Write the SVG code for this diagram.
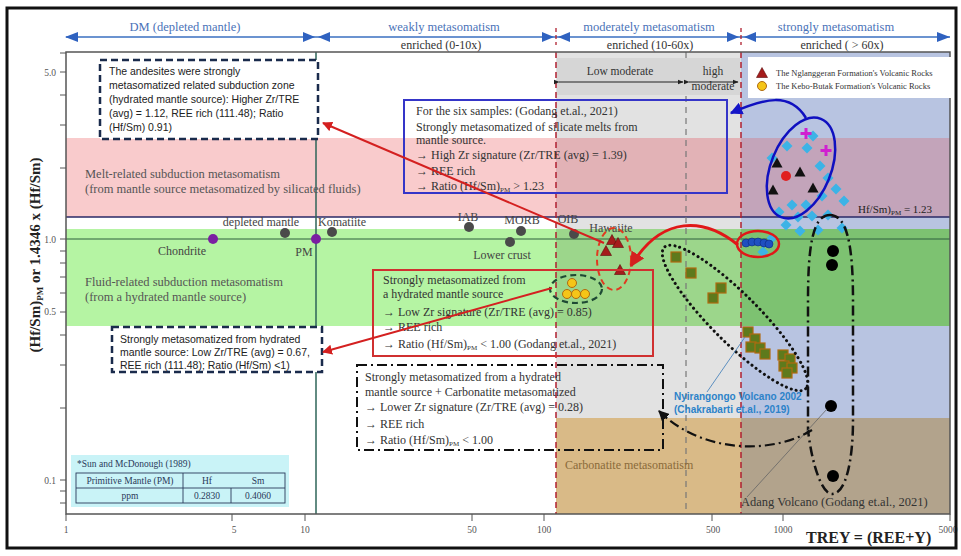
<svg xmlns="http://www.w3.org/2000/svg" width="961" height="556" viewBox="0 0 961 556">
<style>
.serif{font-family:"Liberation Serif","Times New Roman",serif;}
.sans{font-family:"Liberation Sans",Arial,sans-serif;}
.hdr{font-family:"Liberation Serif",serif;font-size:12.5px;fill:#4a72b8;text-anchor:middle;}
.enr{font-family:"Liberation Serif",serif;font-size:12px;fill:#333;text-anchor:middle;}
.tick{font-family:"Liberation Serif",serif;font-size:9.5px;fill:#555;}
.lbl{font-family:"Liberation Serif",serif;font-size:12px;fill:#444;}
.bx{font-family:"Liberation Serif",serif;font-size:12px;fill:#333;}
.bxs{font-family:"Liberation Sans",Arial,sans-serif;font-size:10.5px;fill:#222;}
.dia{fill:#3cb3e6;}
.sq{fill:#5e7a1c;stroke:#b06a10;stroke-width:1.2;}
.tri{fill:#a51c1c;stroke:#5a0a0a;stroke-width:0.6;}
.btri{fill:#111;}
.ycir{fill:#f5c518;stroke:#b06a10;stroke-width:1;}
.gdot{fill:#4a4a4a;}
.pdot{fill:#7b1fa2;}
</style>
<defs>
<marker id="arrR" viewBox="0 0 10 10" refX="9" refY="5" markerWidth="5" markerHeight="5" orient="auto"><path d="M0,0 L10,5 L0,10 Z" fill="#d42020"/></marker>
<marker id="arrB" viewBox="0 0 10 10" refX="9" refY="5" markerWidth="5" markerHeight="5" orient="auto"><path d="M0,0 L10,5 L0,10 Z" fill="#1515c8"/></marker>
<marker id="arrK" viewBox="0 0 10 10" refX="9" refY="5" markerWidth="5" markerHeight="5" orient="auto"><path d="M0,0 L10,5 L0,10 Z" fill="#111"/></marker>
<marker id="arrS" viewBox="0 0 10 10" refX="9" refY="5" markerWidth="6" markerHeight="6" orient="auto"><path d="M0,1 L10,5 L0,9 Z" fill="#222"/></marker>
<path id="dia" d="M0,-5.5 L5.5,0 L0,5.5 L-5.5,0 Z"/>
<path id="tri" d="M0,-5.5 L5.5,4.5 L-5.5,4.5 Z"/>
<rect id="sq" x="-5" y="-5" width="10" height="10"/>
</defs>

<rect x="0" y="0" width="961" height="556" fill="#fff"/>

<g id="bands">
<rect x="66" y="52" width="490" height="462" fill="#ffffff"/>
<rect x="66" y="138" width="490" height="79" fill="#f9cbcc"/>
<rect x="66" y="229" width="490" height="97" fill="#b5f4a3"/>
<rect x="556" y="52" width="185" height="462" fill="#e2e2e2"/>
<rect x="556" y="138" width="185" height="79" fill="#e2b2b6"/>
<rect x="556" y="229" width="185" height="97" fill="#9cd68b"/>
<rect x="556" y="418" width="185" height="96" fill="#d9ba87"/>
<rect x="741" y="52" width="209" height="462" fill="#b8c4e1"/>
<rect x="741" y="138" width="209" height="79" fill="#c3a4ba"/>
<rect x="741" y="229" width="209" height="97" fill="#7dc271"/>
<rect x="741" y="418" width="209" height="96" fill="#b2a38c"/>
</g>

<g id="gridlines">
<line x1="66" y1="217" x2="950" y2="217" stroke="#2a2a66" stroke-width="1.5"/>
<line x1="66" y1="239" x2="950" y2="239" stroke="#2e5e3e" stroke-width="1.2"/>
<line x1="316" y1="52" x2="316" y2="514" stroke="#2e6458" stroke-width="1.5"/>
<line x1="556" y1="52" x2="556" y2="514" stroke="#b02030" stroke-width="1.5" stroke-dasharray="6 4"/>
<line x1="741" y1="52" x2="741" y2="514" stroke="#b02030" stroke-width="1.5" stroke-dasharray="6 4"/>
<line x1="686" y1="52" x2="686" y2="514" stroke="#777" stroke-width="1.2" stroke-dasharray="6 5"/>
</g>

<g id="axes">
<rect x="66" y="52" width="884" height="462" fill="none" stroke="#555" stroke-width="1.5"/>
<g stroke="#555" stroke-width="1">
<line x1="60" y1="53" x2="66" y2="53"/><line x1="60" y1="72" x2="66" y2="72"/><line x1="60" y1="95" x2="66" y2="95"/><line x1="60" y1="125" x2="66" y2="125"/><line x1="60" y1="168" x2="66" y2="168"/><line x1="60" y1="239" x2="66" y2="239"/><line x1="60" y1="251" x2="66" y2="251"/><line x1="60" y1="263" x2="66" y2="263"/><line x1="60" y1="277" x2="66" y2="277"/><line x1="60" y1="293" x2="66" y2="293"/><line x1="60" y1="312" x2="66" y2="312"/><line x1="60" y1="335" x2="66" y2="335"/><line x1="60" y1="365" x2="66" y2="365"/><line x1="60" y1="408" x2="66" y2="408"/><line x1="60" y1="480" x2="66" y2="480"/><line x1="60" y1="491" x2="66" y2="491"/><line x1="60" y1="503" x2="66" y2="503"/>
<line x1="66" y1="514" x2="66" y2="521"/><line x1="232" y1="514" x2="232" y2="521"/><line x1="305" y1="514" x2="305" y2="521"/><line x1="472" y1="514" x2="472" y2="521"/><line x1="544" y1="514" x2="544" y2="521"/><line x1="712" y1="514" x2="712" y2="521"/><line x1="783" y1="514" x2="783" y2="521"/><line x1="950" y1="514" x2="950" y2="521"/>
</g>
<g class="tick" text-anchor="end">
<text x="56" y="76">5.0</text><text x="56" y="243">1.0</text><text x="56" y="315">0.5</text><text x="56" y="484">0.1</text>
</g>
<g class="tick" text-anchor="middle">
<text x="66" y="533">1</text><text x="234" y="533">5</text><text x="305" y="533">10</text><text x="472" y="533">50</text><text x="544" y="533">100</text><text x="713" y="533">500</text><text x="783" y="533">1000</text><text x="948" y="533">5000</text>
</g>
<text class="serif" x="806" y="543" font-size="16" font-weight="bold" fill="#222">TREY = (REE+Y)</text>
<text class="serif" transform="translate(40,255) rotate(-90)" text-anchor="middle" font-size="15" font-weight="bold" fill="#222">(Hf/Sm)<tspan font-size="9" dy="3">PM</tspan><tspan dy="-3"> or 1.4346 x (Hf/Sm)</tspan></text>
</g>

<g id="header">
<line x1="66" y1="37" x2="950" y2="37" stroke="#3a6fc0" stroke-width="1.3"/>
<g fill="#2f62c0">
<polygon points="65,37 78,32 78,42"/>
<polygon points="303,32 315,37 303,42"/><polygon points="330,32 318,37 330,42"/>
<polygon points="542,32 554,37 542,42"/><polygon points="570,32 558,37 570,42"/>
<polygon points="727,32 739,37 727,42"/><polygon points="756,32 744,37 756,42"/>
<polygon points="937,32 950,37 937,42"/>
</g>
<line x1="556" y1="28" x2="556" y2="45" stroke="#b02030" stroke-width="1.3" stroke-dasharray="4 3"/>
<line x1="741" y1="28" x2="741" y2="45" stroke="#b02030" stroke-width="1.3" stroke-dasharray="4 3"/>
<text class="hdr" x="185" y="31">DM (depleted mantle)</text>
<text class="hdr" x="444" y="31">weakly metasomatism</text>
<text class="enr" x="441" y="49">enriched (0-10x)</text>
<text class="hdr" x="649" y="31">moderately metasomatism</text>
<text class="enr" x="650" y="49">enriched (10-60x)</text>
<text class="hdr" x="836" y="31">strongly metasomatism</text>
<text class="enr" x="842" y="49">enriched ( &gt; 60x)</text>
</g>

<g id="moderate-sub">
<rect x="557" y="58" width="183" height="37" fill="#d6d6d6"/>
<text class="serif" x="620" y="75" font-size="11.5" fill="#333" text-anchor="middle">Low moderate</text>
<line x1="559" y1="82" x2="683" y2="82" stroke="#222" stroke-width="1" marker-start="url(#arrS)" marker-end="url(#arrS)"/>
<text class="serif" x="713" y="75" font-size="11.5" fill="#333" text-anchor="middle">high</text>
<text class="serif" x="713" y="90" font-size="11.5" fill="#333" text-anchor="middle">moderate</text>
<line x1="689" y1="82" x2="738" y2="82" stroke="#222" stroke-width="1" marker-start="url(#arrS)" marker-end="url(#arrS)"/>
</g>

<g id="band-labels">
<text class="serif" x="85" y="178" font-size="12.5" fill="#555">Melt-related subduction metasomatism</text>
<text class="serif" x="85" y="193" font-size="12.5" fill="#555">(from mantle source metasomatized by silicated fluids)</text>
<text class="serif" x="85" y="286" font-size="12.5" fill="#555">Fluid-related subduction metasomatism</text>
<text class="serif" x="85" y="301" font-size="12.5" fill="#555">(from a hydrated mantle source)</text>
<text class="serif" x="858" y="213" font-size="11" fill="#222">Hf/Sm)<tspan font-size="7" dy="2">PM</tspan><tspan dy="-2"> = 1.23</tspan></text>
<text class="serif" x="565" y="469" font-size="12" fill="#8a6a3a">Carbonatite metasomatism</text>
</g>

<g id="reservoirs">
<circle class="pdot" cx="213" cy="239" r="5"/>
<text class="lbl" x="182" y="255" text-anchor="middle" fill="#4d5e4d">Chondrite</text>
<circle class="gdot" cx="285" cy="233" r="5"/>
<text class="lbl" x="261" y="226" text-anchor="middle">depleted mantle</text>
<circle class="pdot" cx="316" cy="239" r="5"/>
<text class="lbl" x="304" y="256" text-anchor="middle" fill="#4d5e4d">PM</text>
<circle class="gdot" cx="332" cy="232" r="5"/>
<text class="lbl" x="342" y="226" text-anchor="middle">Komatiite</text>
<circle class="gdot" cx="469" cy="227" r="5"/>
<text class="lbl" x="468" y="221" text-anchor="middle">IAB</text>
<circle class="gdot" cx="521" cy="231" r="5"/>
<text class="lbl" x="522" y="224" text-anchor="middle">MORB</text>
<circle class="gdot" cx="510" cy="242" r="5"/>
<text class="lbl" x="502" y="259" text-anchor="middle">Lower crust</text>
<circle class="gdot" cx="574" cy="234" r="5"/>
<text class="lbl" x="568" y="223" text-anchor="middle">OIB</text>
<text class="lbl" x="611" y="232" text-anchor="middle">Hawaiite</text>
</g>

<g id="nglanggeran">
<use href="#tri" class="tri" x="612" y="240"/>
<use href="#tri" class="tri" x="618" y="243"/>
<use href="#tri" class="tri" x="606" y="251"/>
<use href="#tri" class="tri" x="620" y="270"/>
<ellipse cx="614" cy="259" rx="17" ry="31" fill="none" stroke="#e03a20" stroke-width="2" stroke-dasharray="6 4"/>
</g>

<g id="kebo-butak">
<circle class="ycir" cx="572" cy="283" r="4.5"/>
<circle class="ycir" cx="567" cy="294" r="4.5"/>
<circle class="ycir" cx="576" cy="294" r="4.5"/>
<circle class="ycir" cx="585" cy="294" r="4.5"/>
<ellipse cx="576" cy="289" rx="26" ry="14" fill="none" stroke="#1e4a34" stroke-width="2.2" stroke-dasharray="6 4"/>
</g>

<g id="nyiragongo">
<use href="#sq" class="sq" x="676" y="257"/>
<use href="#sq" class="sq" x="691" y="273"/>
<use href="#sq" class="sq" x="721" y="288"/>
<use href="#sq" class="sq" x="713" y="298"/>
<use href="#sq" class="sq" x="748" y="332"/>
<use href="#sq" class="sq" x="755" y="339"/>
<use href="#sq" class="sq" x="751" y="347"/>
<use href="#sq" class="sq" x="760" y="348"/>
<use href="#sq" class="sq" x="765" y="354"/>
<use href="#sq" class="sq" x="783" y="355"/>
<use href="#sq" class="sq" x="790" y="359"/>
<use href="#sq" class="sq" x="784" y="366"/>
<use href="#sq" class="sq" x="792" y="368"/>
<use href="#sq" class="sq" x="787" y="373"/>
<ellipse cx="735" cy="318" rx="100" ry="24" transform="rotate(45 735 318)" fill="none" stroke="#111" stroke-width="3" stroke-dasharray="0.1 5" stroke-linecap="round"/>
<line x1="707" y1="392" x2="745" y2="337" stroke="#3a7ab8" stroke-width="0.8"/>
<text class="sans" x="674" y="400" font-size="10" font-weight="bold" fill="#2c82c9">Nyirangongo Volcano 2002</text>
<text class="sans" x="674" y="413" font-size="10" font-weight="bold" fill="#2c82c9">(Chakrabarti et.al., 2019)</text>
</g>

<g id="strong-cluster">
<use href="#dia" class="dia" x="813" y="136"/>
<use href="#dia" class="dia" x="787" y="146"/>
<use href="#dia" class="dia" x="807" y="148"/>
<use href="#dia" class="dia" x="772" y="158"/>
<use href="#dia" class="dia" x="820" y="166"/>
<use href="#dia" class="dia" x="828" y="178"/>
<use href="#dia" class="dia" x="836" y="189"/>
<use href="#dia" class="dia" x="822" y="196"/>
<use href="#dia" class="dia" x="844" y="201"/>
<use href="#dia" class="dia" x="806" y="205"/>
<use href="#dia" class="dia" x="792" y="205"/>
<use href="#dia" class="dia" x="779" y="212"/>
<use href="#dia" class="dia" x="798" y="217"/>
<use href="#dia" class="dia" x="812" y="216"/>
<use href="#dia" class="dia" x="828" y="215"/>
<use href="#dia" class="dia" x="842" y="228"/>
<use href="#dia" class="dia" x="818" y="230"/>
<use href="#dia" class="dia" x="800" y="231"/>
<use href="#dia" class="dia" x="786" y="225"/>
<use href="#dia" class="dia" x="772" y="238"/>
<use href="#dia" class="dia" x="763" y="252"/>
<circle cx="786" cy="176" r="5" fill="#e02020"/>
<use href="#tri" class="btri" x="800" y="172"/>
<use href="#tri" class="btri" x="773" y="190"/>
<use href="#tri" class="btri" x="813" y="188"/>
<use href="#tri" class="btri" x="777" y="163"/>
<path d="M806,128 V139 M800.5,133.5 H811.5 M826,145 V156 M820.5,150.5 H831.5" stroke="#d020d0" stroke-width="3"/>
<ellipse cx="801" cy="168" rx="30" ry="53" transform="rotate(22 801 168)" fill="none" stroke="#1010c0" stroke-width="2.5"/>
<g fill="#1f4fc0" stroke="#0a2a80" stroke-width="0.6">
<circle cx="746" cy="243" r="4"/><circle cx="752" cy="242" r="4"/><circle cx="758" cy="242" r="4"/><circle cx="764" cy="243" r="4"/><circle cx="769" cy="244" r="4"/>
</g>
<ellipse cx="758" cy="244" rx="21" ry="13" fill="none" stroke="#e01818" stroke-width="2.5"/>
</g>

<g id="adang">
<circle cx="833" cy="251" r="6" fill="#000"/>
<circle cx="832" cy="265" r="6" fill="#000"/>
<circle cx="831" cy="406" r="6" fill="#000"/>
<circle cx="833" cy="476" r="6" fill="#000"/>
<path d="M830,215 C813,215 808,245 808,300 L808,430 C812,465 822,494 832,494 C846,494 853,460 853,420 L853,300 C853,245 847,215 830,215 Z" fill="none" stroke="#111" stroke-width="2.5" stroke-dasharray="10 4 2 4"/>
<line x1="747" y1="497" x2="827" y2="409" stroke="#666" stroke-width="0.8"/>
<text class="serif" x="741" y="506" font-size="12.5" fill="#333">Adang Volcano (Godang et.al., 2021)</text>
</g>

<g id="legend">
<rect x="748" y="57" width="204" height="41" fill="#fff"/>
<use href="#tri" class="tri" x="762" y="73"/>
<circle class="ycir" cx="762" cy="86" r="4.5"/>
<text class="serif" x="776" y="76" font-size="8.5" fill="#333">The Nglanggeran Formation's Volcanic Rocks</text>
<text class="serif" x="776" y="89" font-size="8.5" fill="#333">The Kebo-Butak Formation's Volcanic Rocks</text>
</g>

<g id="box-andesites">
<rect x="100" y="60" width="218" height="79" fill="#fff" stroke="#1a2b4c" stroke-width="2.5" stroke-dasharray="7 4"/>
<text class="bxs" x="109" y="75">The andesites were strongly</text>
<text class="bxs" x="109" y="89">metasomatized related subduction zone</text>
<text class="bxs" x="109" y="103">(hydrated mantle source): Higher  Zr/TRE</text>
<text class="bxs" x="109" y="117">(avg) = 1.12, REE rich (111.48); Ratio</text>
<text class="bxs" x="109" y="131">(Hf/Sm) 0.91)</text>
</g>

<g id="box-six-samples">
<rect x="404" y="100" width="323" height="93" fill="none" stroke="#3535c8" stroke-width="2"/>
<text class="bx" x="416" y="115">For the six samples:  (Godang et.al., 2021)</text>
<text class="bx" x="416" y="131">Strongly metasomatized of silicate melts from</text>
<text class="bx" x="416" y="144">mantle source.</text>
<text class="bx" x="416" y="159">→  High Zr signature (Zr/TRE (avg) = 1.39)</text>
<text class="bx" x="416" y="175">→  REE rich</text>
<text class="bx" x="416" y="190">→  Ratio (Hf/Sm)<tspan font-size="7" dy="2">PM</tspan><tspan dy="-2"> &gt; 1.23</tspan></text>
</g>

<g id="box-hydrated">
<rect x="373" y="270" width="280" height="86" fill="none" stroke="#d03030" stroke-width="2"/>
<text class="bx" x="383" y="284" fill="#3d6b3d">Strongly metasomatized from</text>
<text class="bx" x="383" y="298" fill="#3d6b3d">a hydrated mantle source</text>
<text class="bx" x="383" y="316">→  Low Zr signature (Zr/TRE (avg) = 0.85)</text>
<text class="bx" x="383" y="331">→  REE rich</text>
<text class="bx" x="383" y="348">→  Ratio (Hf/Sm)<tspan font-size="7" dy="2">PM</tspan><tspan dy="-2"> &lt; 1.00 (Godang et.al., 2021)</tspan></text>
</g>

<g id="box-low-zr">
<rect x="112" y="327" width="210" height="45" fill="#fff" stroke="#1a2b4c" stroke-width="2.5" stroke-dasharray="7 4"/>
<text class="bxs" x="120" y="343">Strongly metasomatized from hydrated</text>
<text class="bxs" x="120" y="356">mantle source: Low Zr/TRE (avg) = 0.67,</text>
<text class="bxs" x="120" y="369">REE rich (111.48); Ratio (Hf/Sm) &lt;1)</text>
</g>

<g id="box-carbonatite">
<rect x="357" y="365" width="306" height="85" fill="none" stroke="#111" stroke-width="2" stroke-dasharray="10 4 2 4"/>
<text class="bx" x="365" y="381">Strongly metasomatized from a hydrated</text>
<text class="bx" x="365" y="396">mantle source + Carbonatite metasomatized</text>
<text class="bx" x="365" y="411">→  Lower Zr signature (Zr/TRE (avg) = 0.28)</text>
<text class="bx" x="365" y="428">→  REE rich</text>
<text class="bx" x="365" y="444">→  Ratio (Hf/Sm)<tspan font-size="7" dy="2">PM</tspan><tspan dy="-2"> &lt; 1.00</tspan></text>
</g>

<g id="pm-table">
<rect x="71" y="455" width="218" height="52" fill="#c9f3f7"/>
<text class="serif" x="77" y="467" font-size="9.5" fill="#2a3a5a">*Sun and McDonough (1989)</text>
<g fill="none" stroke="#2a3a5a" stroke-width="0.9">
<rect x="76" y="473" width="209" height="30"/>
<line x1="76" y1="488" x2="285" y2="488"/>
<line x1="183" y1="473" x2="183" y2="503"/>
<line x1="231" y1="488" x2="231" y2="503"/>
</g>
<g class="serif" font-size="9.5" fill="#2a3a5a" text-anchor="middle">
<text x="130" y="484">Primitive Mantle (PM)</text><text x="207" y="484">Hf</text><text x="258" y="484">Sm</text>
<text x="130" y="499">ppm</text><text x="207" y="499">0.2830</text><text x="258" y="499">0.4060</text>
</g>
</g>

<g id="connectors" fill="none">
<path d="M604,243 L323,123" stroke="#d42020" stroke-width="2" marker-end="url(#arrR)"/>
<path d="M552,288 L323,352" stroke="#d42020" stroke-width="2" marker-end="url(#arrR)"/>
<path d="M738,245 C705,218 662,214 631,266" stroke="#e01818" stroke-width="3" marker-end="url(#arrR)"/>
<path d="M806,118 C790,92 765,98 731,113" stroke="#1010c0" stroke-width="2.5" marker-end="url(#arrB)"/>
<path d="M812,430 C770,456 700,452 659,411" stroke="#111" stroke-width="2.2" stroke-dasharray="10 4 2 4" marker-end="url(#arrK)"/>
</g>

<rect x="7" y="8" width="949" height="540" fill="none" stroke="#111" stroke-width="3"/>
</svg>
